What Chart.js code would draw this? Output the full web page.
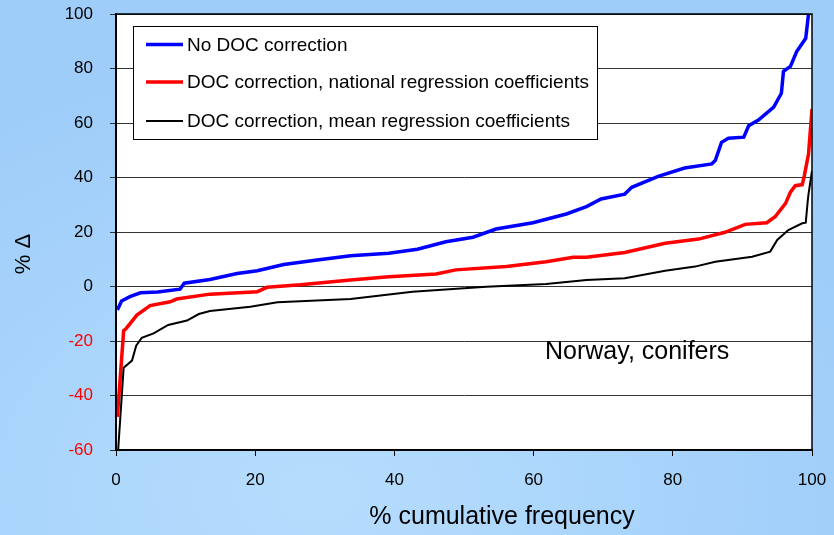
<!DOCTYPE html>
<html>
<head>
<meta charset="utf-8">
<script src="https://cdn.jsdelivr.net/npm/chart.js@4/dist/chart.umd.min.js"></script>
<style>
  html, body { margin: 0; padding: 0; }
  body {
    width: 834px; height: 535px; overflow: hidden;
    background: radial-gradient(ellipse 70% 80% at 38% 92%, #b6ddfd 0%, #a9d4fb 55%, #9ecdf9 100%);
  }
  canvas { display: block; }
</style>
</head>
<body>
<canvas id="c" width="834" height="535"></canvas>
<script>
// Cumulative frequency distributions of % change (Norway, conifers)
const seriesLabels = [
  'No DOC correction',
  'DOC correction, national regression coefficients',
  'DOC correction, mean regression coefficients'
];

const freqNoDoc  = [0.2, 0.8, 2.0, 3.5, 6.0, 9.2, 9.8, 13.5, 17.4, 20.3, 24.1, 28.9, 33.7, 39.2, 43.3, 47.4, 51.3, 54.6, 59.9, 64.7, 67.6, 69.7, 73.1, 74.1, 77.9, 81.7, 85.6, 86.1, 87.0, 88.0, 90.2, 90.9, 92.3, 94.5, 95.6, 95.9, 96.9, 97.8, 99.1, 99.5, 100];
const deltaNoDoc = [-8.6, -5.3, -3.7, -2.3, -2.0, -1.0, 1.2, 2.6, 4.8, 5.8, 8.1, 9.7, 11.3, 12.2, 13.7, 16.4, 18.1, 21.1, 23.4, 26.6, 29.3, 32.1, 33.9, 36.4, 40.4, 43.5, 45.0, 46.2, 52.9, 54.4, 54.8, 59.0, 61.1, 65.8, 70.9, 79.0, 80.8, 86.2, 91.1, 100, 118];

const freqNational  = [0.2, 1.1, 1.5, 3.0, 4.9, 7.8, 8.7, 13.5, 20.3, 21.7, 26.5, 33.7, 39.2, 46.0, 48.8, 56.1, 61.8, 65.7, 67.6, 73.1, 78.9, 83.7, 87.5, 90.4, 93.5, 94.7, 96.2, 96.9, 97.6, 98.6, 98.9, 99.5, 100];
const deltaNational = [-47.8, -16.2, -15.3, -10.5, -7.0, -5.6, -4.6, -2.8, -1.9, -0.3, 0.6, 2.4, 3.6, 4.6, 6.1, 7.3, 9.1, 10.7, 10.7, 12.5, 15.9, 17.4, 19.9, 22.8, 23.4, 25.6, 30.5, 34.6, 37.0, 37.4, 40.7, 48.6, 65.1];

const freqMean  = [0.15, 1.1, 2.3, 2.9, 3.7, 5.4, 7.5, 10.2, 11.9, 13.5, 19.3, 23.2, 33.7, 42.6, 53.2, 61.8, 67.6, 73.1, 78.9, 83.2, 86.1, 91.4, 94.0, 95.0, 96.6, 98.6, 99.1, 99.4, 99.5, 100];
const deltaMean = [-66, -29.8, -27.2, -21.7, -18.8, -17.2, -14.1, -12.5, -10.1, -9.0, -7.4, -5.8, -4.6, -1.9, -0.1, 0.9, 2.4, 3.0, 5.8, 7.3, 9.1, 10.9, 12.8, 17.1, 20.7, 23.2, 23.4, 31.7, 33.9, 42.5];

const xTicks = [0, 20, 40, 60, 80, 100];
const yTicks = [-60, -40, -20, 0, 20, 40, 60, 80, 100];

const colors = ['#0000ff', '#ff0000', '#000000'];
const widths = [3.5, 3.5, 2];

const pairs = (xs, ys) => xs.map((x, i) => ({ x, y: ys[i] }));

const FONT = '"Liberation Sans", Arial, sans-serif';

// White plot area, frame, legend box, axis titles and annotation
const decorations = {
  id: 'decorations',
  beforeDraw(chart) {
    const { ctx, chartArea: a } = chart;
    ctx.save();
    ctx.fillStyle = '#ffffff';
    ctx.fillRect(a.left, a.top, a.right - a.left, a.bottom - a.top);
    ctx.restore();
  },
  afterDraw(chart) {
    const { ctx, chartArea: a } = chart;
    ctx.save();
    ctx.strokeStyle = '#000';
    ctx.lineWidth = 1.5;
    ctx.strokeRect(a.left, a.top, a.right - a.left, a.bottom - a.top);

    // legend
    ctx.fillStyle = '#fff';
    ctx.fillRect(133, 26, 464, 113);
    ctx.strokeStyle = '#000';
    ctx.lineWidth = 1;
    ctx.strokeRect(133.5, 26.5, 464, 113);
    const rows = [44.5, 82, 121];
    ctx.font = '19px ' + FONT;
    ctx.textBaseline = 'middle';
    ctx.textAlign = 'left';
    chart.data.datasets.forEach((ds, i) => {
      ctx.strokeStyle = ds.borderColor;
      ctx.lineWidth = ds.borderWidth;
      ctx.beginPath();
      ctx.moveTo(146, rows[i]);
      ctx.lineTo(183, rows[i]);
      ctx.stroke();
      ctx.fillStyle = '#000';
      ctx.fillText(ds.label, 187, rows[i] + 1);
    });

    // annotation
    ctx.font = '25px ' + FONT;
    ctx.textBaseline = 'alphabetic';
    ctx.fillStyle = '#000';
    ctx.fillText('Norway, conifers', 545, 359);

    // x-axis title
    ctx.textAlign = 'center';
    ctx.fillText('% cumulative frequency', 502, 524);

    // y-axis title
    ctx.translate(30, 254);
    ctx.rotate(-Math.PI / 2);
    ctx.font = '22px ' + FONT;
    ctx.fillText('% \u0394', 0, 0);
    ctx.restore();
  }
};

new Chart(document.getElementById('c'), {
  type: 'line',
  data: {
    datasets: [
      { label: seriesLabels[0], data: pairs(freqNoDoc, deltaNoDoc) },
      { label: seriesLabels[1], data: pairs(freqNational, deltaNational) },
      { label: seriesLabels[2], data: pairs(freqMean, deltaMean) }
    ].map((d, i) => Object.assign(d, {
      borderColor: colors[i],
      backgroundColor: colors[i],
      borderWidth: widths[i],
      pointRadius: 0,
      tension: 0,
      fill: false,
      clip: 0,
      order: 2 - i
    }))
  },
  options: {
    responsive: false,
    animation: false,
    devicePixelRatio: 1,
    layout: { padding: { top: 14, right: 22, left: 0, bottom: 0 } },
    plugins: { legend: { display: false }, tooltip: { enabled: false } },
    scales: {
      x: {
        type: 'linear',
        min: 0, max: 100,
        afterBuildTicks: s => { s.ticks = xTicks.map(v => ({ value: v })); },
        afterFit: s => { s.height = 85; s.paddingLeft = 0; s.paddingRight = 0; },
        ticks: { color: '#000', font: { size: 17, family: FONT }, padding: 14, maxRotation: 0 },
        grid: { drawOnChartArea: false, drawTicks: true, tickLength: 6, color: '#000', lineWidth: 1 },
        border: { display: true, color: '#000', width: 1.5 }
      },
      y: {
        min: -60, max: 100,
        afterBuildTicks: s => { s.ticks = yTicks.map(v => ({ value: v })); },
        afterFit: s => { s.width = 116; s.paddingTop = 0; s.paddingBottom = 0; },
        ticks: {
          color: c => (c.tick && c.tick.value < 0 ? '#ff0000' : '#000000'),
          font: { size: 17, family: FONT },
          padding: 17
        },
        grid: { color: '#333', lineWidth: 1, tickLength: 6, drawTicks: true },
        border: { display: true, color: '#000', width: 2 }
      }
    }
  },
  plugins: [decorations]
});
</script>
</body>
</html>
